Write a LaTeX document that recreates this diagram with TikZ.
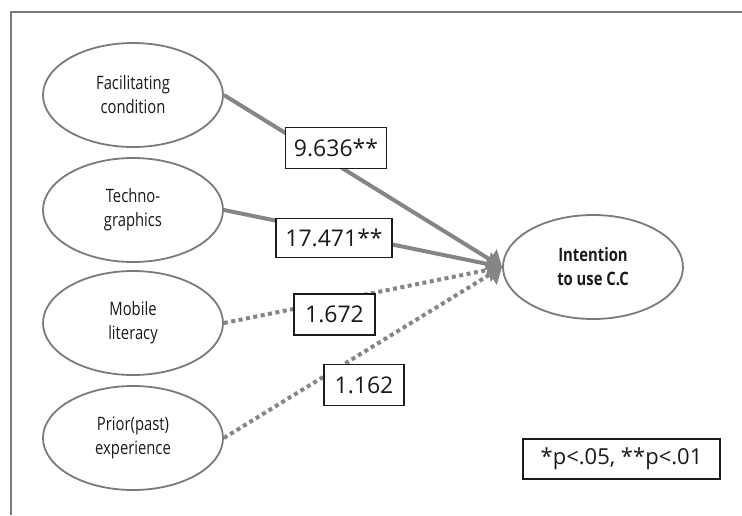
\documentclass[tikz,border=0pt]{standalone}
\usepackage{fontspec}
\setmainfont{Open Sans}
\newfontfamily\ellfont[FakeStretch=0.8]{Open Sans}
\usetikzlibrary{arrows.meta,shapes.geometric}
\definecolor{lgray}{HTML}{858585}
\definecolor{egray}{HTML}{7A7A7A}
\definecolor{tdark}{HTML}{1A1A1A}
\tikzset{
  var/.style={ellipse, draw=egray, line width=1.8pt, minimum width=180pt, minimum height=104pt, inner sep=0pt, align=center, font=\ellfont\fontsize{18.5}{24}\selectfont, text=tdark},
  coef/.style={rectangle, draw=tdark, line width=1.4pt, fill=white, inner sep=0pt, font=\fontsize{23}{26}\selectfont, text=tdark},
  sig/.style={draw=lgray, line width=4pt, -{Triangle[length=14pt,width=24pt]}},
  nonsig/.style={draw=lgray, line width=4pt, dash pattern=on 4pt off 3.5pt, -{Triangle[length=14pt,width=24pt]}}
}
\begin{document}
\begin{tikzpicture}[x=1pt,y=-1pt]
\useasboundingbox (0,0) rectangle (742,515);
\draw[egray, line width=2pt] (11,515) -- (11,12) -- (742,12);
\node[var] (fc) at (133,95) {Facilitating\\condition};
\node[var] (tg) at (133,210) {Techno-\\graphics};
\node[var] (ml) at (133,323) {Mobile\\literacy};
\node[var] (pe) at (133,438) {Prior(past)\\experience};
\node[var, font=\ellfont\bfseries\fontsize{18.5}{24}\selectfont] (it) at (593,267) {Intention\\to use C.C};
\draw[nonsig] (ml.east) -- (it.west);
\draw[nonsig] (pe.east) -- (it.west);
\draw[sig] (fc.east) -- (it.west);
\draw[sig] (tg.east) -- (it.west);
\node[coef, minimum width=101pt, minimum height=41pt] (c1) at (336,148) {9.636**};
\node[coef, minimum width=116pt, minimum height=39pt] (c2) at (334,238) {17.471**};
\node[coef, minimum width=81pt, minimum height=41pt] (c3) at (334.5,314.5) {1.672};
\node[coef, minimum width=80pt, minimum height=41pt] (c4) at (364,385) {1.162};
\node[coef, minimum width=197pt, minimum height=40pt, font=\fontsize{22}{26}\selectfont] (lg) at (621.5,459) {*p<.05, **p<.01};
\end{tikzpicture}
\end{document}
